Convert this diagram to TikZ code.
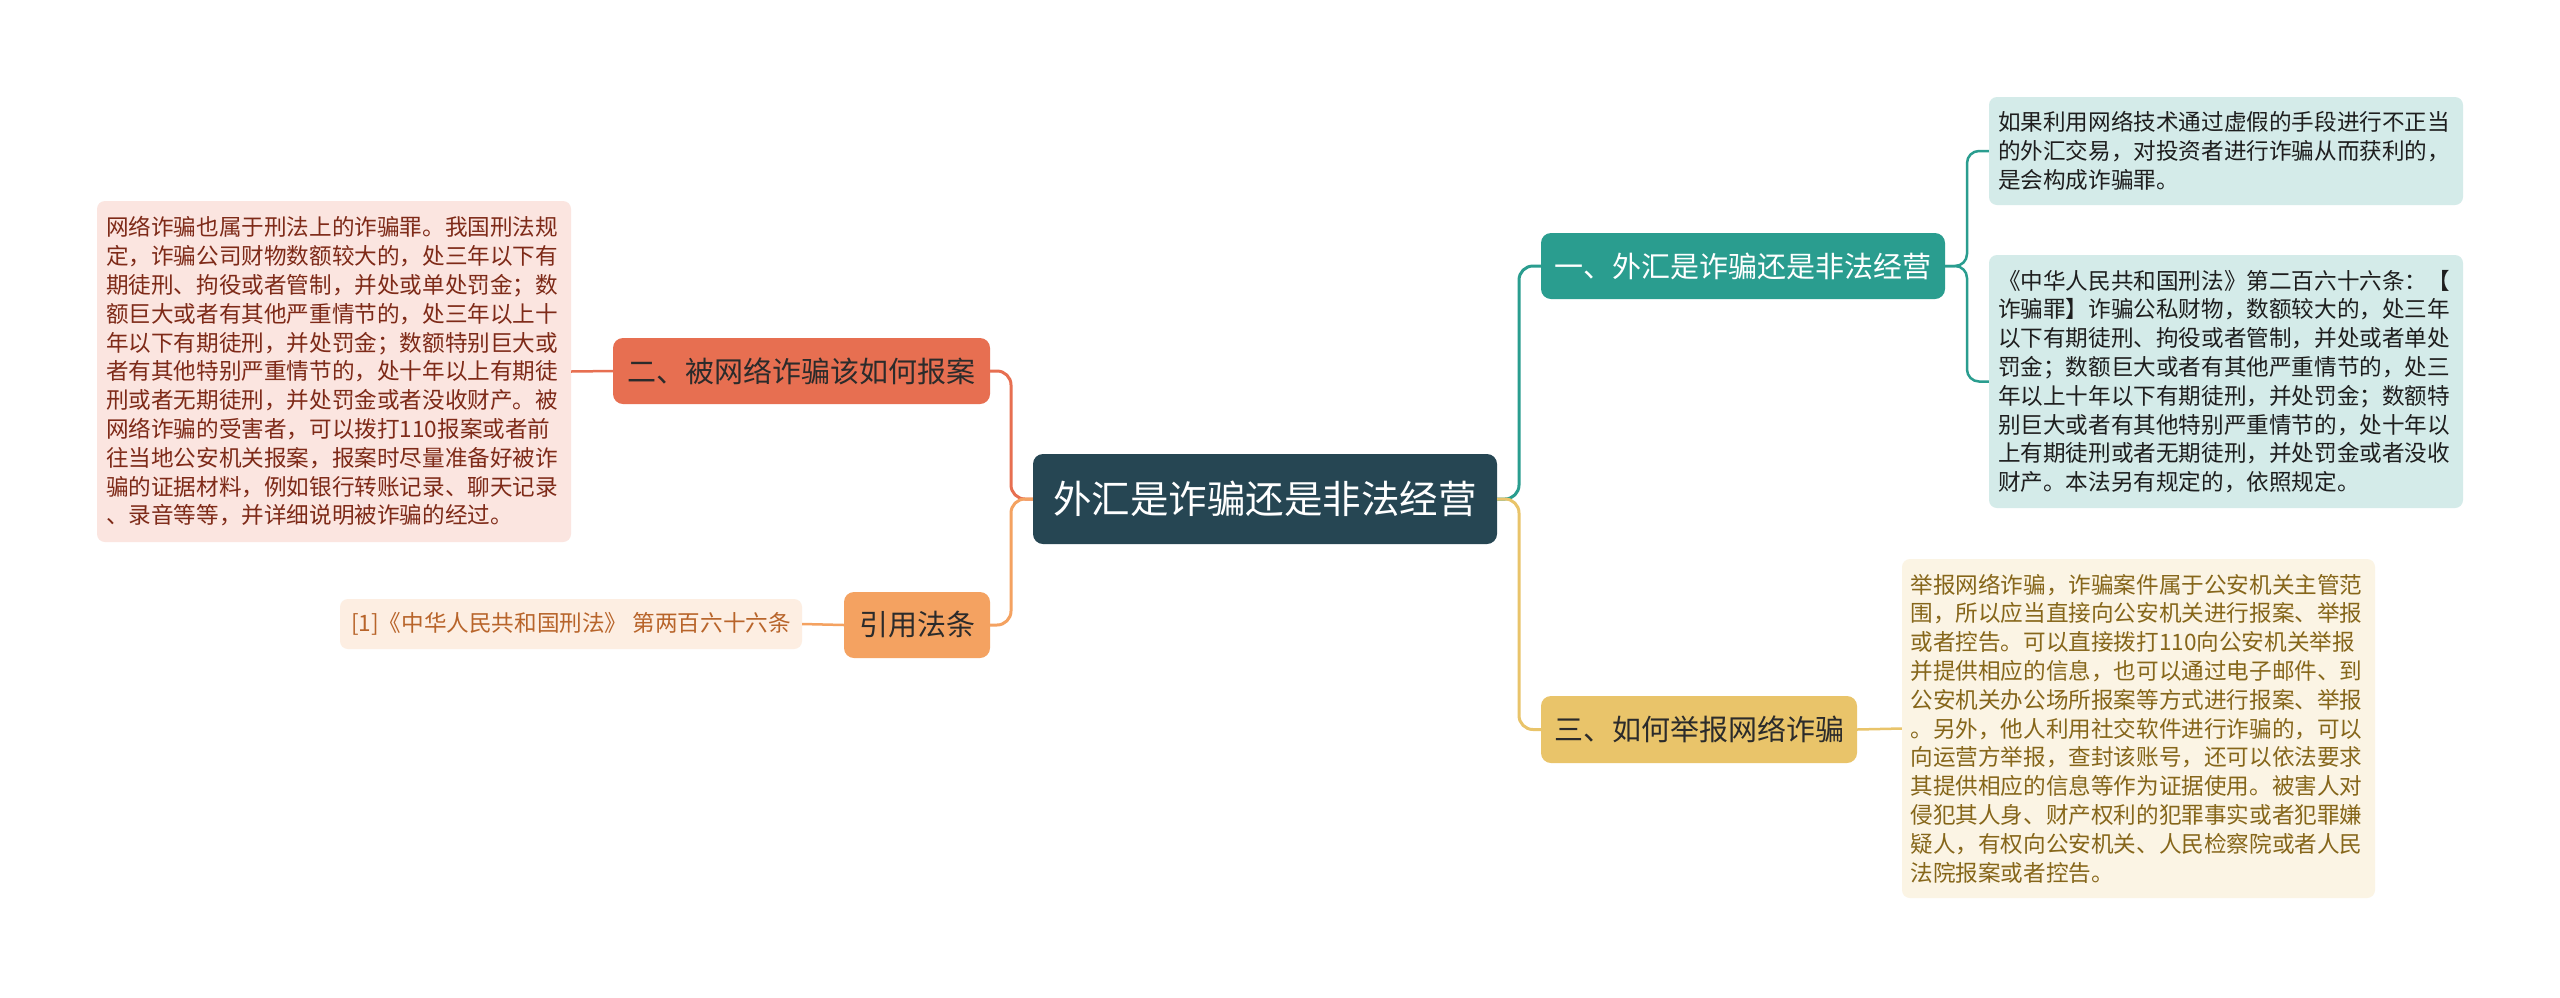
\documentclass[tikz,border=0pt]{standalone}
\usepackage{fontspec}
\setmainfont{Noto Sans CJK SC}
\definecolor{cRoot}{HTML}{264653}
\definecolor{cOne}{HTML}{2A9D8F}
\definecolor{cThree}{HTML}{E9C46A}
\definecolor{cCite}{HTML}{F4A261}
\definecolor{cTwo}{HTML}{E76F51}
\definecolor{fOne}{HTML}{D4EBE9}
\definecolor{fTwo}{HTML}{FBE5E0}
\definecolor{fCite}{HTML}{FDEEE2}
\definecolor{fThree}{HTML}{FBF4E4}
\definecolor{tOne}{HTML}{1E1E1E}
\definecolor{tTwo}{HTML}{7E2A18}
\definecolor{tCite}{HTML}{B8642A}
\definecolor{tThree}{HTML}{86661A}
\definecolor{tDark}{HTML}{2B2B2B}
\tikzset{
  mainbox/.style={rounded corners=10pt, inner sep=0pt, minimum height=66pt, font=\fontsize{29}{34}\selectfont},
  detailbox/.style={rounded corners=8pt, inner sep=0pt, align=left, text width=456pt, font=\fontsize{22.6}{28.8}\selectfont},
  link/.style={line width=3pt, rounded corners=14pt},
  sublink/.style={line width=2.5pt, rounded corners=12pt},
}
\begin{document}
\begin{tikzpicture}[x=1pt,y=-1pt]
\useasboundingbox[fill=white] (0,0) rectangle (2560,997);

% main nodes
\node[mainbox, fill=cRoot, text=white, minimum width=464pt, minimum height=90pt, font=\fontsize{38.5}{44}\selectfont] (root) at (1265,499) {外汇是诈骗还是非法经营};
\node[mainbox, fill=cOne, text=white, minimum width=404pt] (b1) at (1743,266) {一、外汇是诈骗还是非法经营};
\node[mainbox, fill=cTwo, text=tDark, minimum width=377pt] (b2) at (801.5,371) {二、被网络诈骗该如何报案};
\node[mainbox, fill=cCite, text=tDark, minimum width=146pt] (cite) at (917,625) {引用法条};
\node[mainbox, fill=cThree, text=tDark, minimum width=316pt, minimum height=67pt] (b3) at (1699,729.5) {三、如何举报网络诈骗};

% detail nodes
\node[detailbox, fill=fTwo, text=tTwo, minimum width=474pt, minimum height=341pt] (lbox) at (334,371.5) {网络诈骗也属于刑法上的诈骗罪。我国刑法规\\定，诈骗公司财物数额较大的，处三年以下有\\期徒刑、拘役或者管制，并处或单处罚金；数\\额巨大或者有其他严重情节的，处三年以上十\\年以下有期徒刑，并处罚金；数额特别巨大或\\者有其他特别严重情节的，处十年以上有期徒\\刑或者无期徒刑，并处罚金或者没收财产。被\\网络诈骗的受害者，可以拨打110报案或者前\\往当地公安机关报案，报案时尽量准备好被诈\\骗的证据材料，例如银行转账记录、聊天记录\\、录音等等，并详细说明被诈骗的经过。};
\node[rounded corners=8pt, inner sep=0pt, fill=fCite, text=tCite, minimum width=462pt, minimum height=50pt, font=\fontsize{22.6}{28.8}\selectfont] (citebox) at (571,624) {[1]《中华人民共和国刑法》 第两百六十六条};
\node[detailbox, fill=fOne, text=tOne, minimum width=474pt, minimum height=108pt] (boxA) at (2226,151) {如果利用网络技术通过虚假的手段进行不正当\\的外汇交易，对投资者进行诈骗从而获利的，\\是会构成诈骗罪。};
\node[detailbox, fill=fOne, text=tOne, minimum width=474pt, minimum height=253pt] (boxB) at (2226,381.5) {《中华人民共和国刑法》第二百六十六条：【\\诈骗罪】诈骗公私财物，数额较大的，处三年\\以下有期徒刑、拘役或者管制，并处或者单处\\罚金；数额巨大或者有其他严重情节的，处三\\年以上十年以下有期徒刑，并处罚金；数额特\\别巨大或者有其他特别严重情节的，处十年以\\上有期徒刑或者无期徒刑，并处罚金或者没收\\财产。本法另有规定的，依照规定。};
\node[detailbox, fill=fThree, text=tThree, minimum width=473pt, minimum height=339pt] (boxC) at (2138.5,728.5) {举报网络诈骗，诈骗案件属于公安机关主管范\\围，所以应当直接向公安机关进行报案、举报\\或者控告。可以直接拨打110向公安机关举报\\并提供相应的信息，也可以通过电子邮件、到\\公安机关办公场所报案等方式进行报案、举报\\。另外，他人利用社交软件进行诈骗的，可以\\向运营方举报，查封该账号，还可以依法要求\\其提供相应的信息等作为证据使用。被害人对\\侵犯其人身、财产权利的犯罪事实或者犯罪嫌\\疑人，有权向公安机关、人民检察院或者人民\\法院报案或者控告。};

% junctions
\coordinate (jl) at (1011,499);
\coordinate (jr) at (1519,499);
\coordinate (k1) at (1967,266);

% connectors
\draw[link, draw=cTwo] (b2.east) -| (jl) -- (root.west);
\draw[link, draw=cCite] (cite.east) -| (jl) -- (root.west);
\draw[link, draw=cOne] (root.east) -- (jr) |- (b1.west);
\draw[link, draw=cThree] (root.east) -- (jr) |- (b3.west);
\draw[sublink, draw=cTwo] (b2.west) -- (lbox.east);
\draw[sublink, draw=cCite] (cite.west) -- (citebox.east);
\draw[sublink, draw=cOne] (b1.east) -- (k1) |- (boxA.west);
\draw[sublink, draw=cOne] (b1.east) -- (k1) |- (boxB.west);
\draw[sublink, draw=cThree] (b3.east) -- (boxC.west);
\end{tikzpicture}
\end{document}
